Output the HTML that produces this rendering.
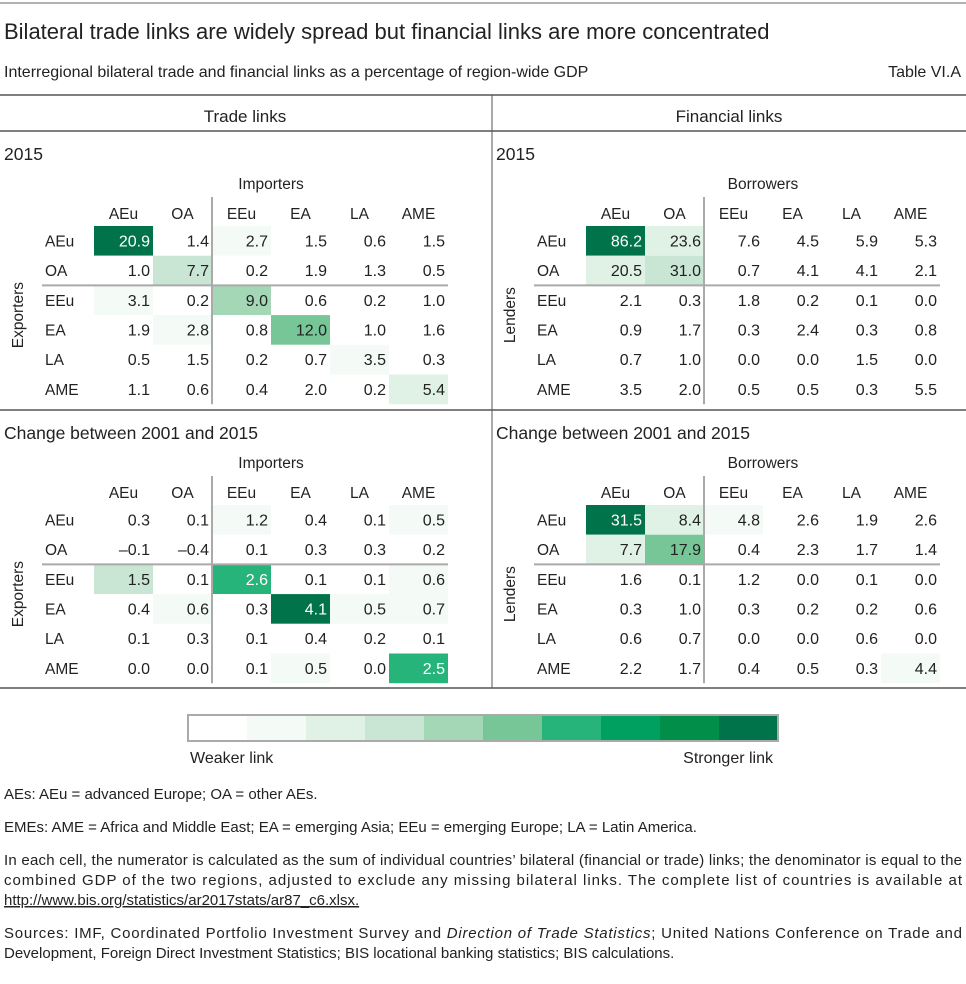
<!DOCTYPE html>
<html><head><meta charset="utf-8">
<style>
body{margin:0;background:#fff;width:966px;height:979px;overflow:hidden;font-family:"Liberation Sans",sans-serif;color:#222}
svg text{font-family:"Liberation Sans",sans-serif}
</style></head>
<body>
<svg id="s" width="966" height="979" xmlns="http://www.w3.org/2000/svg" fill="#222">
<line x1="0" y1="3" x2="966" y2="3" stroke="#666" stroke-width="1"/>
<text x="4" y="39" font-size="22">Bilateral trade links are widely spread but financial links are more concentrated</text>
<text x="4" y="77" font-size="16">Interregional bilateral trade and financial links as a percentage of region-wide GDP</text>
<text x="961" y="77" font-size="16" text-anchor="end">Table VI.A</text>
<line x1="0" y1="95" x2="966" y2="95" stroke="#555" stroke-width="1.5"/>
<line x1="0" y1="131" x2="966" y2="131" stroke="#555" stroke-width="1.5"/>
<line x1="0" y1="410" x2="966" y2="410" stroke="#555" stroke-width="1.5"/>
<line x1="0" y1="688" x2="966" y2="688" stroke="#555" stroke-width="1.5"/>
<line x1="492" y1="95" x2="492" y2="688" stroke="#555" stroke-width="1"/>
<text x="245" y="122" font-size="17" text-anchor="middle">Trade links</text>
<text x="729" y="122" font-size="17" text-anchor="middle">Financial links</text>
<g id="tables"></g>
<g id="legend"></g>
<text x="190" y="763" font-size="16">Weaker link</text>
<text x="773" y="763" font-size="16" text-anchor="end">Stronger link</text>
<g font-size="15">
<text x="4" y="799">AEs: AEu = advanced Europe; OA = other AEs.</text>
<text x="4" y="832">EMEs: AME = Africa and Middle East; EA = emerging Asia; EEu = emerging Europe; LA = Latin America.</text>
<text x="4" y="865" textLength="958" lengthAdjust="spacing">In each cell, the numerator is calculated as the sum of individual countries’ bilateral (financial or trade) links; the denominator is equal to the</text>
<text x="4" y="885" textLength="958" lengthAdjust="spacing">combined GDP of the two regions, adjusted to exclude any missing bilateral links. The complete list of countries is available at</text>
<text x="4" y="905" text-decoration="underline">http://www.bis.org/statistics/ar2017stats/ar87_c6.xlsx.</text>
<text x="4" y="938" textLength="958" lengthAdjust="spacing">Sources: IMF, Coordinated Portfolio Investment Survey and <tspan font-style="italic">Direction of Trade Statistics</tspan>; United Nations Conference on Trade and</text>
<text x="4" y="958">Development, Foreign Direct Investment Statistics; BIS locational banking statistics; BIS calculations.</text>
</g>
</svg>
<script>
const regions=["AEu","OA","EEu","EA","LA","AME"];
const palette=["#ffffff","#f4faf6","#e0f1e6","#c8e6d3","#a4d7b5","#76c698","#26b47b","#00a060","#008e48","#00734a"];
const trade2015=[[20.9,1.4,2.7,1.5,0.6,1.5],[1.0,7.7,0.2,1.9,1.3,0.5],[3.1,0.2,9.0,0.6,0.2,1.0],[1.9,2.8,0.8,12.0,1.0,1.6],[0.5,1.5,0.2,0.7,3.5,0.3],[1.1,0.6,0.4,2.0,0.2,5.4]];
const trade2015Shade=[[9,0,1,0,0,0],[0,3,0,0,0,0],[1,0,4,0,0,0],[0,1,0,5,0,0],[0,0,0,0,1,0],[0,0,0,0,0,2]];
const fin2015=[[86.2,23.6,7.6,4.5,5.9,5.3],[20.5,31.0,0.7,4.1,4.1,2.1],[2.1,0.3,1.8,0.2,0.1,0.0],[0.9,1.7,0.3,2.4,0.3,0.8],[0.7,1.0,0.0,0.0,1.5,0.0],[3.5,2.0,0.5,0.5,0.3,5.5]];
const fin2015Shade=[[9,2,0,0,0,0],[2,3,0,0,0,0],[0,0,0,0,0,0],[0,0,0,0,0,0],[0,0,0,0,0,0],[0,0,0,0,0,0]];
const tradeChg=[[0.3,0.1,1.2,0.4,0.1,0.5],[-0.1,-0.4,0.1,0.3,0.3,0.2],[1.5,0.1,2.6,0.1,0.1,0.6],[0.4,0.6,0.3,4.1,0.5,0.7],[0.1,0.3,0.1,0.4,0.2,0.1],[0.0,0.0,0.1,0.5,0.0,2.5]];
const tradeChgShade=[[0,0,1,0,0,1],[0,0,0,0,0,0],[3,0,6,0,0,1],[0,1,0,9,1,1],[0,0,0,0,0,0],[0,0,0,1,0,6]];
const finChg=[[31.5,8.4,4.8,2.6,1.9,2.6],[7.7,17.9,0.4,2.3,1.7,1.4],[1.6,0.1,1.2,0.0,0.1,0.0],[0.3,1.0,0.3,0.2,0.2,0.6],[0.6,0.7,0.0,0.0,0.6,0.0],[2.2,1.7,0.4,0.5,0.3,4.4]];
const finChgShade=[[9,2,1,0,0,0],[2,5,0,0,0,0],[0,0,0,0,0,0],[0,0,0,0,0,0],[0,0,0,0,0,0],[0,0,0,0,0,1]];
const NS="http://www.w3.org/2000/svg";
const G=document.getElementById('tables');
function mk(tag,attrs,parent,txt){const e=document.createElementNS(NS,tag);for(const k in attrs)e.setAttribute(k,attrs[k]);if(txt!==undefined)e.textContent=txt;(parent||G).appendChild(e);return e;}
const cellW=59,cellH=29.7;
function fmt(v){return v<0?"\u2013"+Math.abs(v).toFixed(1):v.toFixed(1);}
function table(ox,oy,vals,shade,title,colTitle,rowTitle,key){
  const g=mk('g',{});
  
  
  const t=mk('text',{x:ox+4,y:oy+29,'font-size':17.5},g,title);
  
  
  const x0=ox+94,y0=oy+95;
  const ct=mk('text',{x:x0+cellW*3,y:oy+58,'font-size':15.5,'text-anchor':'middle'},g,colTitle);
  
  
  const rt=mk('text',{x:0,y:0,'font-size':15.5,'text-anchor':'middle',transform:`translate(${ox+23},${y0+cellH*3}) rotate(-90)`},g,rowTitle);
  
  
  regions.forEach((r,j)=>{
    const h=mk('text',{x:x0+cellW*j+cellW/2,y:oy+88,'font-size':15.5,'text-anchor':'middle'},g,r);
    
    
  });
  regions.forEach((r,i)=>{
    const l=mk('text',{x:ox+45,y:y0+cellH*i+cellH/2+5.5,'font-size':15.5},g,r);
    
    
    vals[i].forEach((v,j)=>{
      const s=shade[i][j];
      const rc=mk('rect',{x:x0+cellW*j,y:y0+cellH*i,width:cellW,height:cellH,fill:palette[s]},g);
      
      
      const tx=mk('text',{x:x0+cellW*(j+1)-3,y:y0+cellH*i+cellH/2+5.5,'font-size':16,'text-anchor':'end',fill:s>=6?'#ffffff':'#222222'},g,fmt(v));
      
      
    });
  });
  mk('line',{x1:x0+cellW*2,y1:oy+66,x2:x0+cellW*2,y2:y0+cellH*6,stroke:'#aaa','stroke-width':2},g);
  mk('line',{x1:ox+42,y1:y0+cellH*2,x2:x0+cellW*6,y2:y0+cellH*2,stroke:'#aaa','stroke-width':2},g);
}
table(0,131,trade2015,trade2015Shade,"2015","Importers","Exporters","trade-2015");
table(492,131,fin2015,fin2015Shade,"2015","Borrowers","Lenders","financial-2015");
table(0,410,tradeChg,tradeChgShade,"Change between 2001 and 2015","Importers","Exporters","trade-change");
table(492,410,finChg,finChgShade,"Change between 2001 and 2015","Borrowers","Lenders","financial-change");
const L=document.getElementById('legend');
const lx=188,lw=590/10;
palette.forEach((c,i)=>{
  const r=mk('rect',{x:lx+lw*i,y:715,width:lw,height:26,fill:c},L);
  
  
});
mk('rect',{x:lx,y:715,width:590,height:26,fill:'none',stroke:'#aaa','stroke-width':2},L);
</script>
</body></html>
